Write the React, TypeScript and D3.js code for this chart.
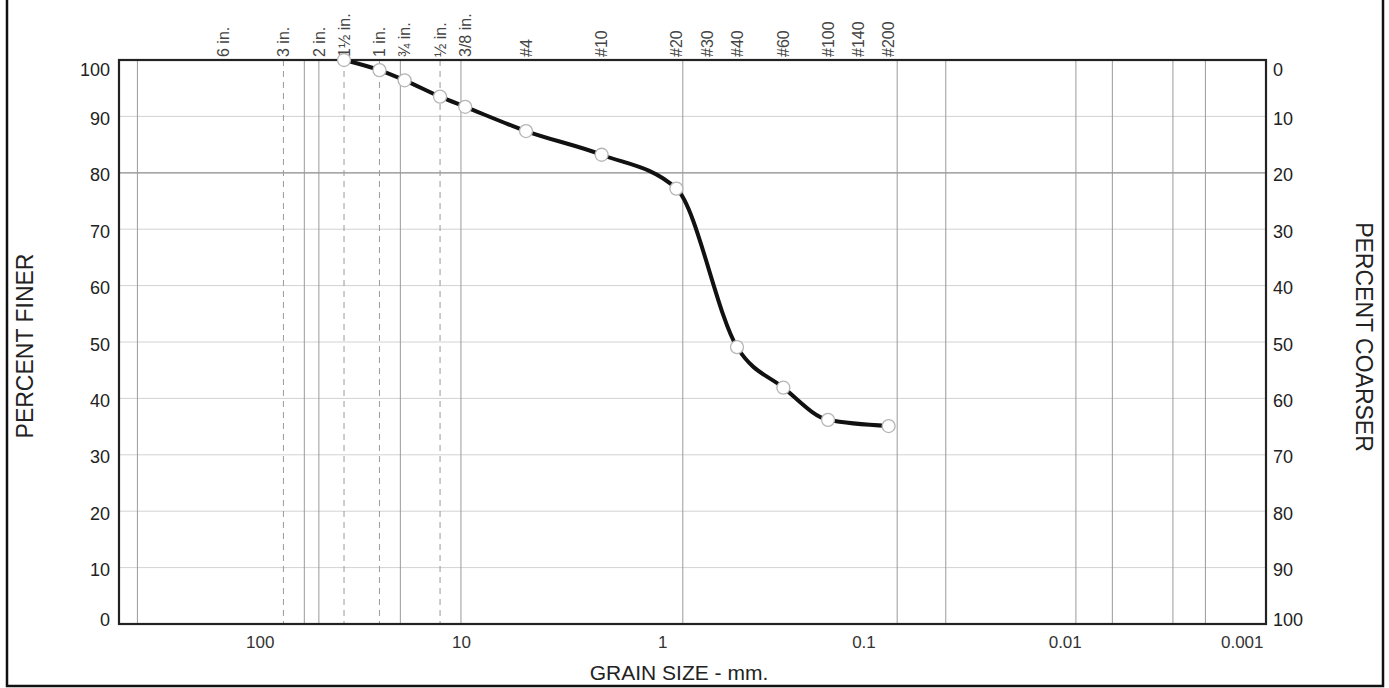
import React, { useEffect, useRef } from 'react'
import * as d3 from 'd3'

// sieve openings (mm) and percent passing
const sieveSizes = [38.1, 25.4, 19.05, 12.7, 9.525, 4.75, 2.0, 0.85, 0.425, 0.25, 0.15, 0.075]
const percentFiner = [100, 98.2, 96.4, 93.5, 91.7, 87.4, 83.2, 77.2, 49.1, 41.9, 36.2, 35.1]

// labels along the top
const sieveLabels = ['6 in.', '3 in.', '2 in.', '1½ in.', '1 in.', '¾ in.', '½ in.', '3/8 in.', '#4', '#10', '#20', '#30', '#40', '#60', '#100', '#140', '#200']
const sieveLabelSizes = [152.4, 76.2, 50.8, 38.1, 25.4, 19.05, 12.7, 9.525, 4.75, 2.0, 0.85, 0.6, 0.425, 0.25, 0.15, 0.106, 0.075]

// vertical grid lines (mm)
const dashedLines = [76.2, 38.1, 25.4, 12.7]
const solidLines = [405, 60, 50.8, 20, 10, 0.79, 0.068, 0.039, 0.0088, 0.0058, 0.0029, 0.002]

const sizeTicks = [100, 10, 1, 0.1, 0.01, 0.001]
const sizeTickLabels = ['100', '10', '1', '0.1', '0.01', '0.001']
const percentTicks = [0, 10, 20, 30, 40, 50, 60, 70, 80, 90, 100]

const W = 1389
const H = 688
const FONT = '"Liberation Sans", Arial, Helvetica, sans-serif'

export default function App() {
  const ref = useRef<SVGSVGElement>(null)

  useEffect(() => {
    const svg = d3.select(ref.current)
    svg.selectAll('*').remove()

    const left = 119, right = 1266, top = 60, bottom = 624

    const x = d3.scaleLog().domain([500, 0.001]).range([left, right])
    const y = d3.scaleLinear().domain([0, 100]).range([bottom, top])
    const yc = d3.scaleLinear().domain([100, 0]).range([bottom, top])

    svg.append('rect').attr('width', W).attr('height', H).attr('fill', '#fff')

    // outer frame (top edge is off the page)
    svg.append('rect')
      .attr('x', 7).attr('y', -10)
      .attr('width', 1376).attr('height', 696)
      .attr('fill', 'none').attr('stroke', '#111').attr('stroke-width', 2.5)

    // horizontal grid
    svg.append('g').selectAll('line')
      .data(percentTicks.filter(d => d > 0 && d < 100))
      .enter().append('line')
      .attr('x1', left).attr('x2', right)
      .attr('y1', d => y(d)).attr('y2', d => y(d))
      .attr('stroke', d => d === 80 ? '#8a8a8a' : '#d2d2d2')
      .attr('stroke-width', d => d === 80 ? 1.2 : 1)

    // vertical grid
    svg.append('g').selectAll('line')
      .data(solidLines)
      .enter().append('line')
      .attr('x1', d => x(d)).attr('x2', d => x(d))
      .attr('y1', top).attr('y2', bottom)
      .attr('stroke', '#9a9a9a').attr('stroke-width', 1)

    svg.append('g').selectAll('line')
      .data(dashedLines)
      .enter().append('line')
      .attr('x1', d => x(d)).attr('x2', d => x(d))
      .attr('y1', top).attr('y2', bottom)
      .attr('stroke', '#9a9a9a').attr('stroke-width', 1)
      .attr('stroke-dasharray', '6,5')

    // plot frame
    svg.append('rect')
      .attr('x', left).attr('y', top)
      .attr('width', right - left).attr('height', bottom - top)
      .attr('fill', 'none').attr('stroke', '#222').attr('stroke-width', 2.2)

    // percent finer (left)
    const yAxisL = svg.append('g')
      .attr('transform', `translate(${left - 9},0)`)
      .call(d3.axisLeft(y).tickValues(percentTicks).tickSize(0).tickPadding(0))
    yAxisL.select('.domain').remove()
    yAxisL.selectAll('text')
      .attr('font-family', FONT).attr('font-size', 18).attr('fill', '#222')
      .attr('dy', (d: any) => d === 100 ? '0.85em' : d === 0 ? '0.1em' : '0.45em')

    // percent coarser (right)
    const yAxisR = svg.append('g')
      .attr('transform', `translate(${right + 7},0)`)
      .call(d3.axisRight(yc).tickValues(percentTicks).tickSize(0).tickPadding(0))
    yAxisR.select('.domain').remove()
    yAxisR.selectAll('text')
      .attr('font-family', FONT).attr('font-size', 18).attr('fill', '#222')
      .attr('dy', (d: any) => d === 0 ? '0.85em' : d === 100 ? '0.1em' : '0.45em')

    // grain size (bottom)
    const xAxis = svg.append('g')
      .attr('transform', `translate(0,${bottom})`)
      .call(d3.axisBottom(x).tickValues(sizeTicks).tickSize(0).tickPadding(12)
        .tickFormat((d, i) => sizeTickLabels[i]))
    xAxis.select('.domain').remove()
    xAxis.selectAll('text')
      .attr('font-family', FONT).attr('font-size', 17).attr('fill', '#333')
      .attr('text-anchor', (d: any) => d === 0.001 ? 'end' : 'middle')
      .attr('dx', (d: any) => d === 0.001 ? -3 : 0)

    // sieve labels on top
    svg.append('g').selectAll('text')
      .data(sieveLabelSizes)
      .enter().append('text')
      .attr('transform', d => `translate(${x(d)},57) rotate(-90)`)
      .attr('dy', '0.36em')
      .attr('font-family', FONT).attr('font-size', 16).attr('fill', '#444')
      .text((d, i) => sieveLabels[i])

    // gradation curve
    const pts: [number, number][] = sieveSizes.map((s, i) => [x(s), y(percentFiner[i])])
    const line = d3.line().curve(d3.curveMonotoneX)
    svg.append('path')
      .attr('d', line(pts))
      .attr('fill', 'none').attr('stroke', '#111').attr('stroke-width', 4)

    svg.append('g').selectAll('circle')
      .data(pts)
      .enter().append('circle')
      .attr('cx', d => d[0]).attr('cy', d => d[1])
      .attr('r', 6.5)
      .attr('fill', '#fff').attr('stroke', '#b5b5b5').attr('stroke-width', 1.3)

    // axis titles
    svg.append('text')
      .attr('transform', 'translate(25,346) rotate(-90)')
      .attr('text-anchor', 'middle').attr('dy', '0.36em')
      .attr('font-family', FONT).attr('font-size', 23).attr('fill', '#222')
      .text('PERCENT FINER')

    svg.append('text')
      .attr('transform', 'translate(1364,337) rotate(90)')
      .attr('text-anchor', 'middle').attr('dy', '0.36em')
      .attr('font-family', FONT).attr('font-size', 23).attr('fill', '#222')
      .text('PERCENT COARSER')

    svg.append('text')
      .attr('x', 679).attr('y', 680)
      .attr('text-anchor', 'middle')
      .attr('font-family', FONT).attr('font-size', 21).attr('fill', '#222')
      .text('GRAIN SIZE - mm.')
  }, [])

  return (
    <svg ref={ref} width={W} height={H}
      style={{ position: 'absolute', left: 0, top: 0, display: 'block' }} />
  )
}
